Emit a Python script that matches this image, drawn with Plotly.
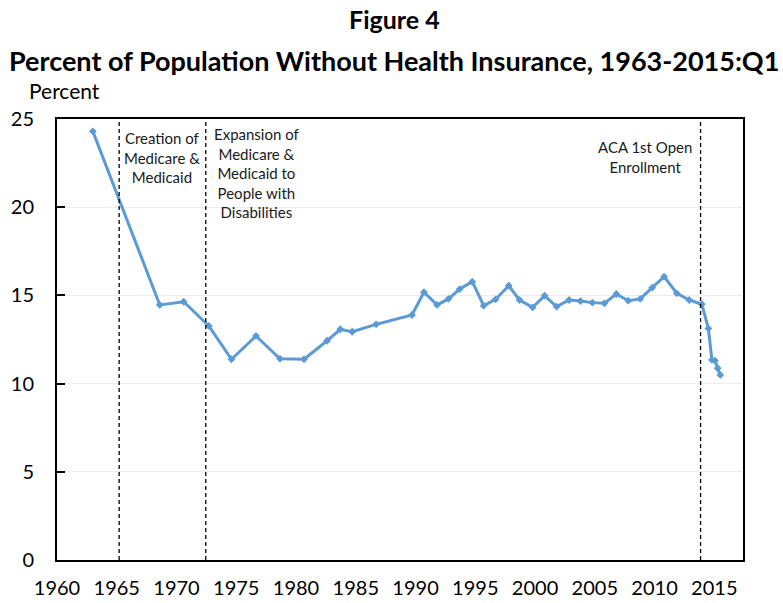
import plotly.graph_objects as go

years = [1963, 1968.6, 1970.6, 1972.7, 1974.6, 1976.65, 1978.66, 1980.67, 1982.6, 1983.7,
         1984.7, 1986.7, 1989.7, 1990.7, 1991.8, 1992.75, 1993.7, 1994.75, 1995.7, 1996.7,
         1997.8, 1998.7, 1999.8, 2000.8, 2001.8, 2002.85, 2003.8, 2004.8, 2005.8, 2006.8,
         2007.8, 2008.8, 2009.8, 2010.8, 2011.86, 2012.9, 2013.95, 2014.5, 2014.8, 2015.06,
         2015.28, 2015.5]
uninsured = [24.3, 14.46, 14.64, 13.27, 11.38, 12.7, 11.41, 11.38, 12.43, 13.08,
             12.94, 13.36, 13.89, 15.18, 14.46, 14.8, 15.36, 15.78, 14.42, 14.78,
             15.55, 14.74, 14.32, 14.98, 14.36, 14.74, 14.68, 14.59, 14.55, 15.08,
             14.7, 14.8, 15.44, 16.06, 15.12, 14.74, 14.5, 13.13, 11.34, 11.3,
             10.87, 10.49]

event_years = [1965.2, 1972.45, 2013.85]
event_labels = ["Creation of<br>Medicare &<br>Medicaid",
                "Expansion of<br>Medicare &<br>Medicaid to<br>People with<br>Disabilities",
                "ACA 1st Open<br>Enrollment"]
label_x = [1968.8, 1976.7, 2009.2]
label_y = [24.55, 24.8, 24.05]

x_ticks = list(range(1960, 2016, 5))
y_ticks = [0, 5, 10, 15, 20, 25]

FONT = "Lato, 'Open Sans', sans-serif"
W, H = 783, 603
L, R, T, B = 57, 40, 119, 43
pw, ph = W - L - R, H - T - B


def px_x(x):
    return (x - L) / pw


def px_y(y):
    return (H - B - y) / ph


fig = go.Figure()
fig.add_trace(go.Scatter(
    x=years, y=uninsured, mode="lines+markers",
    line=dict(color="#5B9BD5", width=3),
    marker=dict(symbol="diamond", size=6, color="#5B9BD5"),
    showlegend=False, hoverinfo="x+y",
))

for ex in event_years:
    fig.add_shape(type="line", xref="x", yref="paper", x0=ex, x1=ex, y0=0, y1=1,
                  line=dict(color="black", width=1.3, dash="4px,3px"))

for t, lx, ly in zip(event_labels, label_x, label_y):
    fig.add_annotation(x=lx, y=ly, xref="x", yref="y", text=t, showarrow=False,
                       yanchor="top", xanchor="center", align="center",
                       font=dict(family=FONT, size=15, color="#1a1a1a"))

fig.add_annotation(text="<b>Figure 4</b>", x=px_x(394), y=px_y(19),
                   xref="paper", yref="paper", showarrow=False,
                   xanchor="center", yanchor="middle",
                   font=dict(family=FONT, size=25, color="black"))
fig.add_annotation(text="<b>Percent of Population Without Health Insurance, 1963-2015:Q1</b>",
                   x=px_x(394), y=px_y(60), xref="paper", yref="paper", showarrow=False,
                   xanchor="center", yanchor="middle",
                   font=dict(family=FONT, size=27, color="black"))
fig.add_annotation(text="Percent", x=px_x(64), y=px_y(90), xref="paper", yref="paper",
                   showarrow=False, xanchor="center", yanchor="middle",
                   font=dict(family=FONT, size=21, color="black"))

fig.update_layout(
    width=W, height=H,
    margin=dict(l=L, r=R, t=T, b=B, autoexpand=False),
    paper_bgcolor="white", plot_bgcolor="white",
    font=dict(family=FONT, color="black"),
    xaxis=dict(range=[1960, 2017.4], tickvals=x_ticks, ticks="", showgrid=False,
               showline=True, linecolor="black", linewidth=2, mirror=True,
               tickfont=dict(size=20), zeroline=False, ticklabelstandoff=9,
               automargin=False),
    yaxis=dict(range=[0, 25], tickvals=y_ticks, ticks="inside", ticklen=8, tickwidth=1.5,
               tickcolor="black", showgrid=True, gridcolor="#ececec", gridwidth=1,
               showline=True, linecolor="black", linewidth=2, mirror=True,
               tickfont=dict(size=20), zeroline=False, ticklabelstandoff=17,
               automargin=False),
)

fig.write_html("out.html", config={"displayModeBar": False},
               post_script="document.body.style.margin='0';document.body.style.padding='0';")
